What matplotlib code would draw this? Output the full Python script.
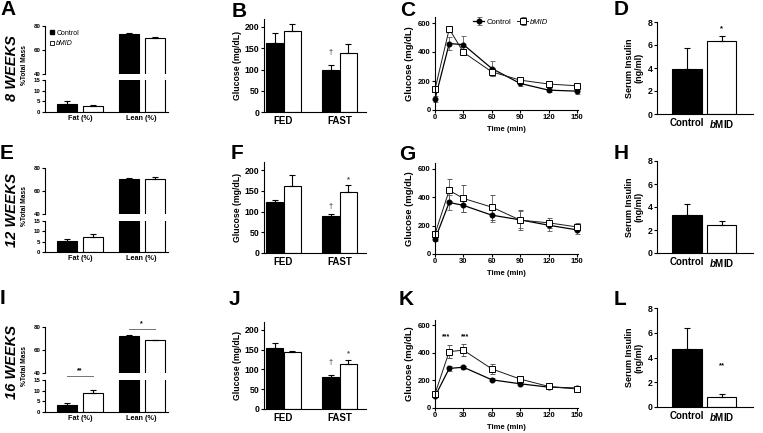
import numpy as np
import matplotlib.pyplot as plt
from matplotlib.lines import Line2D

plt.rcParams['font.family'] = ['Liberation Sans', 'DejaVu Sans']
plt.rcParams['font.weight'] = 'bold'
plt.rcParams['axes.labelweight'] = 'bold'
plt.rcParams['mathtext.fontset'] = 'custom'
plt.rcParams['mathtext.it'] = 'Liberation Sans:italic:bold'
plt.rcParams['axes.linewidth'] = 0.8

W, H = 763, 433

# ---- data ----
weeks = ['8 WEEKS', '12 WEEKS', '16 WEEKS']

# body composition (% total mass): [Fat, Lean]
comp_labels = ['Fat (%)', 'Lean (%)']
comp_ctrl = [[3.6, 73.1], [5.1, 70.6], [3.5, 72.3]]
comp_ctrl_err = [[1.6, 1.2], [1.1, 0.5], [0.9, 1.1]]
comp_bmid = [[3.0, 69.7], [7.2, 70.6], [9.0, 68.3]]
comp_bmid_err = [[0.3, 0.9], [1.4, 1.4], [1.3, 0.8]]

# fed / fasted glucose (mg/dL)
glu_labels = ['FED', 'FAST']
glu_ctrl = [[162, 100], [123, 88], [154, 82]]
glu_ctrl_err = [[25, 11], [4, 6], [12, 5]]
glu_bmid = [[191, 139], [162, 146], [143, 114]]
glu_bmid_err = [[17, 22], [26, 17], [3, 9]]

# glucose tolerance test
gtt_time = [0, 15, 30, 60, 90, 120, 150]
gtt_ctrl = [[75, 458, 451, 286, 183, 137, 130],
            [104, 364, 343, 274, 241, 203, 170],
            [84, 286, 295, 204, 175, 151, 144]]
gtt_ctrl_err = [[20, 45, 62, 50, 20, 15, 20],
                [15, 50, 50, 50, 60, 40, 30],
                [8, 15, 12, 12, 10, 10, 10]]
gtt_bmid = [[142, 559, 398, 263, 206, 179, 167],
            [142, 449, 392, 331, 239, 220, 191],
            [103, 408, 418, 283, 209, 156, 137]]
gtt_bmid_err = [[15, 15, 22, 30, 15, 15, 10],
                [15, 78, 97, 88, 68, 35, 25],
                [10, 45, 42, 35, 15, 12, 12]]

# serum insulin (ng/ml)
ins_labels = ['Control', r'$\it{b}$MID']
ins_ctrl = [3.9, 3.3, 4.7]
ins_ctrl_err = [1.8, 1.0, 1.65]
ins_bmid = [6.35, 2.4, 0.8]
ins_bmid_err = [0.45, 0.42, 0.25]

fig = plt.figure(figsize=(W / 100, H / 100), dpi=100)


def axpx(l, t, r, b):
    return fig.add_axes([l / W, 1 - b / H, (r - l) / W, (b - t) / H])


def style(ax, size):
    ax.spines['top'].set_visible(False)
    ax.spines['right'].set_visible(False)
    ax.tick_params(axis='both', labelsize=size, length=2.2, width=0.8, pad=1)


def up_err(ax, x, y, e):
    ax.errorbar(x, y, yerr=[np.zeros(len(e)), e], fmt='none', ecolor='black',
                elinewidth=0.8, capsize=2.2, capthick=0.8)


def bar_pair(ax, xc, xb, c, ce, b, be, w):
    ax.bar(xc, c, width=w, color='black', edgecolor='black', lw=0.8)
    ax.bar(xb, b, width=w, color='white', edgecolor='black', lw=0.8)
    up_err(ax, xc, c, ce)
    up_err(ax, xb, b, be)


# ---- body composition (broken axis) ----
comp_rows = [((26, 74), (80, 112)), ((168, 214), (221, 252)), ((327, 373), (380, 412))]
comp_centers = np.array([1.75, 4.83])
for i, (tp, bp) in enumerate(comp_rows):
    axt = axpx(45, tp[0], 168, tp[1])
    axb = axpx(45, bp[0], 168, bp[1])
    for ax in (axt, axb):
        bar_pair(ax, comp_centers - 0.65, comp_centers + 0.65, comp_ctrl[i], comp_ctrl_err[i],
                 comp_bmid[i], comp_bmid_err[i], 1.0)
        ax.set_xlim(0, 6.15)
        style(ax, 4.4)
    axt.set_ylim(40, 80)
    axt.set_yticks([40, 60, 80])
    axt.spines['bottom'].set_visible(False)
    axt.tick_params(axis='x', bottom=False, labelbottom=False)
    axb.set_ylim(0, 15)
    axb.set_yticks([0, 5, 10, 15])
    axb.set_xticks(comp_centers, comp_labels, fontsize=5.2)
    axb.tick_params(axis='x', length=0, pad=2)
    yc = (tp[0] + bp[1]) / 2 - 4
    fig.text(25 / W, 1 - yc / H, '%Total Mass', rotation=90, ha='center', va='center', fontsize=4.8)
    if i == 0:
        hs = [Line2D([], [], marker='s', ls='none', mfc='black', mec='black', ms=3.5),
              Line2D([], [], marker='s', ls='none', mfc='white', mec='black', ms=3.5, mew=0.6)]
        leg = axt.legend(hs, ['Control', 'bMID'], loc='upper left', bbox_to_anchor=(-0.01, 1.05),
                         frameon=False, handlelength=0.6, handletextpad=0.3, labelspacing=0.5,
                         prop={'size': 5, 'weight': 'normal'})
        leg.get_texts()[1].set_style('italic')
    if i == 2:
        x0, x1 = comp_centers[0] - 0.65, comp_centers[0] + 0.65
        axb.plot([x0, x1], [16.9, 16.9], color='0.45', lw=0.7, clip_on=False)
        axb.text(comp_centers[0], 19.5, '**', ha='center', va='center', fontsize=5, clip_on=False)
        x0, x1 = comp_centers[1] - 0.65, comp_centers[1] + 0.65
        axt.plot([x0, x1], [78.6, 78.6], color='0.45', lw=0.7, clip_on=False)
        axt.text(comp_centers[1], 82.5, '*', ha='center', va='center', fontsize=5, clip_on=False)

# ---- fed / fasted glucose ----
glu_rows = [(18.5, 112), (161.7, 253), (322, 409)]
glu_centers = np.array([1.15, 4.45])
glu_marks = [[('\u2020', 0, 140)], [('\u2020', 0, 112), ('*', 1, 177)], [('\u2020', 0, 118), ('*', 1, 139)]]
for i, (t, b) in enumerate(glu_rows):
    ax = axpx(264, t, 366, b)
    bar_pair(ax, glu_centers - 0.52, glu_centers + 0.52, glu_ctrl[i], glu_ctrl_err[i],
             glu_bmid[i], glu_bmid_err[i], 1.0)
    ax.set_xlim(0, 6)
    ax.set_ylim(0, 220)
    ax.set_yticks([0, 50, 100, 150, 200])
    style(ax, 6.3)
    ax.set_xticks(glu_centers, glu_labels, fontsize=7)
    ax.tick_params(axis='x', length=0, pad=3)
    ax.set_ylabel('Glucose (mg/dL)', fontsize=6.3, labelpad=2)
    for sym, k, y in glu_marks[i]:
        ax.text(glu_centers[1] + (-0.52 if k == 0 else 0.52), y, sym, ha='center', va='center',
                fontsize=5.5, color='0.3')

# ---- glucose tolerance test ----
gtt_rows = [(17.2, 110), (163.3, 254), (319.5, 408)]
for i, (t, b) in enumerate(gtt_rows):
    ax = axpx(435, t, 578, b)
    ax.errorbar(gtt_time, gtt_ctrl[i], yerr=gtt_ctrl_err[i], fmt='-o', color='black', ms=3.3,
                lw=0.9, ecolor='0.35', elinewidth=0.6, capsize=1.8, capthick=0.6, clip_on=False,
                label='Control')
    ax.errorbar(gtt_time, gtt_bmid[i], yerr=gtt_bmid_err[i], fmt='-s', color='0.1', mfc='white',
                mec='black', mew=0.7, ms=4, lw=0.7, ecolor='0.35', elinewidth=0.6, capsize=1.8,
                capthick=0.6, clip_on=False, label='bMID')
    ax.set_xlim(0, 151)
    ax.set_ylim(0, 640)
    ax.set_xticks([0, 30, 60, 90, 120, 150])
    ax.set_yticks([0, 200, 400, 600])
    style(ax, 5.5)
    ax.set_xlabel('Time (min)', fontsize=5.5, labelpad=3)
    ax.set_ylabel('Glucose (mg/dL)', fontsize=6.8, labelpad=3)
    if i == 0:
        leg = ax.legend(loc='upper left', bbox_to_anchor=(0.22, 1.06), ncol=2, frameon=False,
                        handlelength=1.4, handletextpad=0.3, columnspacing=0.8,
                        prop={'size': 5.5, 'weight': 'normal'})
        leg.get_texts()[1].set_style('italic')
    if i == 2:
        for tx in (12, 32):
            ax.text(tx, 516, '***', ha='center', va='center', fontsize=5)

# ---- serum insulin ----
ins_rows = [(22, 114), (161, 253), (308, 407)]
ins_marks = [('*', 1, 7.4), None, ('**', 1, 3.3)]
for i, (t, b) in enumerate(ins_rows):
    ax = axpx(657, t, 753, b)
    bar_pair(ax, [1.0], [2.15], [ins_ctrl[i]], [ins_ctrl_err[i]], [ins_bmid[i]], [ins_bmid_err[i]], 0.97)
    ax.set_xlim(0, 3.2)
    ax.set_ylim(0, 8)
    ax.set_yticks([0, 2, 4, 6, 8])
    style(ax, 6.3)
    ax.set_xticks([1.0, 2.15], ins_labels, fontsize=7)
    ax.tick_params(axis='x', length=0, pad=3)
    ax.set_ylabel('Serum Insulin\n(ng/ml)', fontsize=6.5, labelpad=3, linespacing=1.1)
    if ins_marks[i]:
        sym, k, y = ins_marks[i]
        ax.text(2.15, y, sym, ha='center', va='center', fontsize=5.5)

# ---- row labels and panel letters ----
for lab, yc in zip(weeks, [68, 210, 362]):
    fig.text(12 / W, 1 - yc / H, lab, rotation=90, ha='center', va='center', fontsize=10.5,
             fontweight='bold', style='italic')

letters = [('A', 0, 0), ('B', 232, 2), ('C', 400, 1), ('D', 614, 0),
           ('E', 0, 144), ('F', 231, 144), ('G', 399, 145), ('H', 614, 144),
           ('I', 0, 289), ('J', 229, 290), ('K', 399, 290), ('L', 614, 290)]
for s, x, y in letters:
    fig.text(x / W, 1 - y / H, s, ha='left', va='top', fontsize=15, fontweight='bold')

fig.savefig('out.png', dpi=100)
